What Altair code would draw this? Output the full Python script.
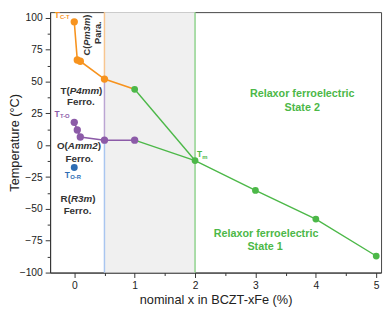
import altair as alt
import pandas as pd

# ---------------- data ----------------
ct_x = [0, 0.05, 0.1, 0.5, 1]          # T C-T (orange)
ct_y = [97, 67, 66, 52, 44]
to_x = [0, 0.05, 0.1, 0.5, 1]          # T T-O (purple)
to_y = [18, 12, 6.5, 4, 4]
tm_x = [2, 3, 4, 5]                     # Tm (green)
tm_y = [-12, -35.5, -58, -87]
or_x = [0]                              # T O-R (blue)
or_y = [-17.5]
x_ticks = [0, 0.5, 1, 1.5, 2, 2.5, 3, 3.5, 4, 4.5, 5]
y_ticks = [-100, -87.5, -75, -62.5, -50, -37.5, -25, -12.5, 0, 12.5, 25, 37.5, 50, 62.5, 75, 87.5, 100]
band = [0.5, 2]

FONT = "Liberation Sans"
ORANGE = "#f7931e"
PURPLE = "#8c5ba8"
GREEN = "#4cb848"
BLUE = "#2e6db4"
DARK = "#333333"

X_DOM = [-0.4, 5.08]
Y_DOM = [-100, 104.6]
W, H = 338, 266
LEFT, TOP = 51, 9   # page pixel of plot origin


def px2x(px):
    return X_DOM[0] + (px - LEFT) / W * (X_DOM[1] - X_DOM[0])


def py2y(py):
    return Y_DOM[1] - (py - TOP) / H * (Y_DOM[1] - Y_DOM[0])


xaxis = alt.Axis(values=x_ticks, grid=False, title="nominal x in BCZT-xFe (%)",
                 labelExpr="datum.value % 1 == 0 ? format(datum.value, 'd') : ''",
                 tickSize={"condition": {"test": "datum.value % 1 != 0", "value": 3}, "value": 5},
                 labelPadding=3, labelFontSize=10.5, titleFontSize=13, titleFontWeight="normal",
                 titleY=32, titleBaseline="alphabetic", domainColor=DARK, tickColor=DARK,
                 labelColor="#222222", titleColor="#222222")
yaxis = alt.Axis(values=y_ticks, grid=False, title="Temperature (°C)",
                 labelExpr="datum.value % 25 == 0 ? format(datum.value, 'd') : ''",
                 tickSize={"condition": {"test": "datum.value % 25 != 0", "value": 3}, "value": 5},
                 labelPadding=3, labelFontSize=10.5, titleFontSize=13, titleFontWeight="normal",
                 titleX=-32, titleBaseline="alphabetic", domainColor=DARK, tickColor=DARK,
                 labelColor="#222222", titleColor="#222222")
xs = alt.Scale(domain=X_DOM, nice=False, zero=False)
ys = alt.Scale(domain=Y_DOM, nice=False, zero=False)


def X(f="x"):
    return alt.X(f"{f}:Q", scale=xs, axis=xaxis)


def Y(f="y"):
    return alt.Y(f"{f}:Q", scale=ys, axis=yaxis)


layers = []

# shaded band
band_df = pd.DataFrame({"x": [band[0]], "x2": [band[1]], "y": [Y_DOM[0]], "y2": [Y_DOM[1]]})
layers.append(alt.Chart(band_df).mark_rect(color="#f0f0f0").encode(
    x=X(), x2="x2", y=Y(), y2="y2"))

# vertical boundary lines
vr = pd.DataFrame({
    "x": [band[0], band[0], band[0], band[1]],
    "y": [ct_y[3], to_y[3], Y_DOM[0], Y_DOM[0]],
    "y2": [Y_DOM[1], ct_y[3], to_y[3], Y_DOM[1]],
    "c": ["#f8c690", "#bba5d3", "#a9c6f0", "#8fd38d"],
})
layers.append(alt.Chart(vr).mark_rule(strokeWidth=1.5).encode(
    x=X(), y=Y(), y2="y2", color=alt.Color("c:N", scale=None)))

# green connecting lines
g_df = pd.DataFrame({
    "x": [ct_x[-1], tm_x[0], to_x[-1], tm_x[0]] + tm_x,
    "y": [ct_y[-1], tm_y[0], to_y[-1], tm_y[0]] + tm_y,
    "g": ["a", "a", "b", "b"] + ["c"] * len(tm_x),
})
layers.append(alt.Chart(g_df).mark_line(color=GREEN, strokeWidth=1.4).encode(
    x=X(), y=Y(), detail="g:N"))

ct_df = pd.DataFrame({"x": ct_x, "y": ct_y})
to_df = pd.DataFrame({"x": to_x, "y": to_y})
layers.append(alt.Chart(ct_df).mark_line(color=ORANGE, strokeWidth=1.6).encode(x=X(), y=Y()))
layers.append(alt.Chart(to_df).mark_line(color=PURPLE, strokeWidth=1.6).encode(x=X(), y=Y()))

layers.append(alt.Chart(ct_df.iloc[:-1]).mark_circle(color=ORANGE, size=56, opacity=1).encode(x=X(), y=Y()))
layers.append(alt.Chart(to_df).mark_circle(color=PURPLE, size=56, opacity=1).encode(x=X(), y=Y()))
gp = pd.DataFrame({"x": [ct_x[-1]] + tm_x, "y": [ct_y[-1]] + tm_y})
layers.append(alt.Chart(gp).mark_circle(color=GREEN, size=48, opacity=1).encode(x=X(), y=Y()))
layers.append(alt.Chart(pd.DataFrame({"x": or_x, "y": or_y})).mark_circle(
    color=BLUE, size=50, opacity=1).encode(x=X(), y=Y()))

# ---------------- annotations ----------------
WID = {' ': 278, '(': 333, ')': 333, '.': 278, '-': 333, '1': 556, '2': 556, '3': 556, '4': 556,
       'A': 722, 'C': 722, 'F': 611, 'O': 778, 'P': 667, 'R': 722, 'S': 667, 'T': 611,
       'a': 556, 'c': 556, 'e': 556, 'f': 333, 'i': 278, 'l': 278, 'm': 889, 'o': 611,
       'r': 389, 't': 333, 'x': 556}


def wid(s, fs):
    return sum(WID.get(c, 556) for c in s) * fs / 1000.0


ann = []


def add(px, py, text, size, color=DARK, italic=False, angle=0, align="left", baseline="middle"):
    ann.append(dict(px=px, py=py, text=text, size=size, color=color, italic=italic,
                    angle=angle, align=align, baseline=baseline))


def rich_h(cx, cy, parts, size, color=DARK):
    total = sum(wid(t, size) for t, _ in parts)
    x = cx - total / 2
    for t, it in parts:
        add(x, cy, t, size, color, it)
        x += wid(t, size)


def rich_v(cx, cy, parts, size, color=DARK):
    total = sum(wid(t, size) for t, _ in parts)
    y = cy + total / 2
    for t, it in parts:
        add(cx, y, t, size, color, it, angle=270)
        y -= wid(t, size)


def tlabel(px, py, sub, color, fs=8.5, sfs=6):
    add(px, py, "T", fs, color, baseline="alphabetic")
    add(px + wid("T", fs) + 0.3, py + 1.5, sub, sfs, color, baseline="alphabetic")


tlabel(55.5, 14.5, "C-T", ORANGE)
tlabel(55.5, 116, "T-O", PURPLE)
tlabel(66, 178, "O-R", BLUE)
tlabel(201, 157, "m", GREEN)

rich_v(89, 32.5, [("C(", False), ("Pm3m", True), (")", False)], 9.5)
rich_v(100, 30, [("Para.", False)], 9.5)
rich_h(83, 89.5, [("T(", False), ("P4mm", True), (")", False)], 10)
rich_h(82.5, 100.5, [("Ferro.", False)], 10)
rich_h(80.5, 146, [("O(", False), ("Amm2", True), (")", False)], 10)
rich_h(81, 159, [("Ferro.", False)], 10)
rich_h(79.5, 199.5, [("R(", False), ("R3m", True), (")", False)], 10)
rich_h(79, 212, [("Ferro.", False)], 10)

add(308.5, 92.5, "Relaxor ferroelectric", 11, GREEN, align="center")
add(308.5, 107, "State 2", 11, GREEN, align="center")
add(271.5, 235.5, "Relaxor ferroelectric", 11, GREEN, align="center")
add(270.5, 248.5, "State 1", 11, GREEN, align="center")

ann_df = pd.DataFrame(ann)
ann_df["x"] = ann_df["px"].map(px2x)
ann_df["y"] = ann_df["py"].map(py2y)
keys = ["size", "color", "italic", "angle", "align", "baseline"]
for key, grp in ann_df.groupby(keys, sort=False):
    size, color, italic, angle, align, baseline = key
    layers.append(alt.Chart(grp[["x", "y", "text"]].reset_index(drop=True)).mark_text(
        font=FONT, fontWeight="bold", fontStyle="italic" if italic else "normal",
        fontSize=float(size), color=color, angle=float(angle), align=align, baseline=baseline
    ).encode(x=X(), y=Y(), text="text:N"))

chart = alt.layer(*layers).properties(
    width=W, height=H,
    autosize=alt.AutoSizeParams(type="none"),
    padding={"left": 43, "top": 1, "right": 3, "bottom": 35},
).configure(font=FONT).configure_view(stroke="#444444", strokeWidth=1)

chart.save("out.html", embed_options={"renderer": "svg", "actions": False})
